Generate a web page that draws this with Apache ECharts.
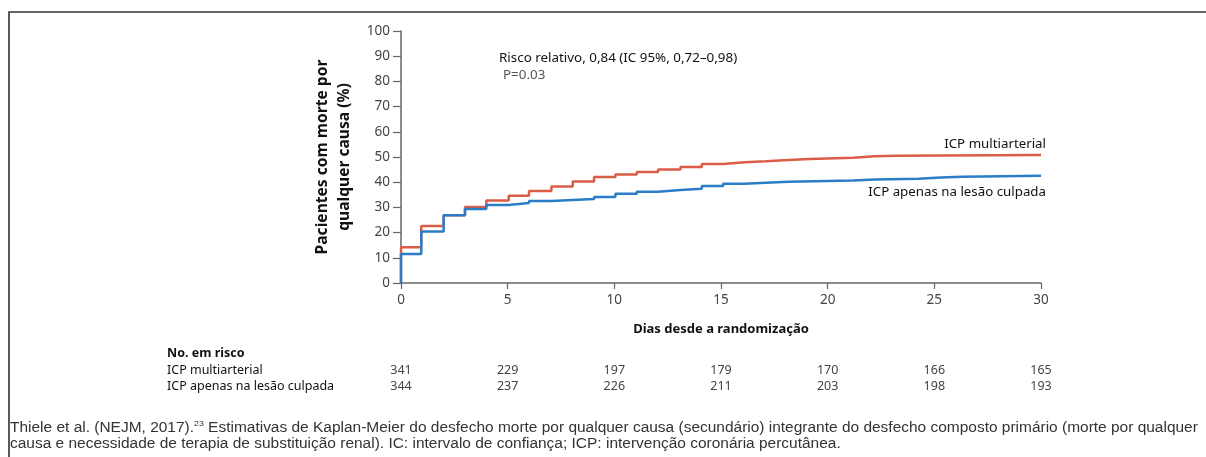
<!DOCTYPE html>
<html>
<head>
<meta charset="utf-8">
<script src="https://cdn.jsdelivr.net/npm/echarts@6/dist/echarts.min.js"></script>
<style>
html,body{margin:0;padding:0;background:#fff;}
#chart{width:1206px;height:457px;}
</style>
</head>
<body>
<div id="chart"></div>
<script>
// ---- data ----
const multiName = 'ICP multiarterial';
const culpName = 'ICP apenas na lesão culpada';
const multiDays = [0, 0, 0.95, 2, 3, 4, 5.05, 6, 7.05, 8.05, 9.05, 10.05, 11.05, 12.05, 13.1, 14.1, 15.1, 16.1, 17.1, 18.15, 19.15, 21.2, 22.2, 23.2, 30];
const multiVals = [0, 14.2, 22.6, 26.9, 30.2, 32.7, 34.6, 36.5, 38.3, 40.3, 42.1, 43.1, 44.0, 45.0, 46.0, 47.2, 47.9, 48.3, 48.8, 49.2, 49.7, 50.3, 50.5, 50.8, 50.8];
const culpDays = [0, 0, 0.95, 2, 3, 4, 5.05, 6, 7.05, 8.05, 9.05, 10.05, 11.05, 12.05, 13.1, 14.1, 15.1, 16.1, 17.1, 18.15, 21.2, 22.2, 24.25, 25.3, 26.3, 30];
const culpVals = [0, 11.5, 20.4, 26.9, 29.4, 31.0, 31.7, 32.5, 32.9, 33.3, 34.1, 35.4, 36.2, 36.9, 37.4, 38.5, 39.4, 39.8, 40.2, 40.7, 41.1, 41.4, 41.9, 42.2, 42.6, 42.6];
const riskDays = [0, 5, 10, 15, 20, 25, 30];
const riskMulti = [341, 229, 197, 179, 170, 166, 165];
const riskCulp = [344, 237, 226, 211, 203, 198, 193];
const yTicks = [0, 10, 20, 30, 40, 50, 60, 70, 80, 90, 100];

const redColor = '#dc5d47';
const blueColor = '#2c7dc8';
const font = 'Noto Sans';

const chart = echarts.init(document.getElementById('chart'), null, {renderer: 'canvas'});

const option = {
  animation: false,
  backgroundColor: '#fff',
  grid: {left: 401, right: 165, top: 31, bottom: 174, containLabel: false},
  xAxis: {
    type: 'value', min: 0, max: 30, interval: 5,
    name: 'Dias desde a randomização', nameLocation: 'middle', nameGap: 40,
    nameTextStyle: {fontFamily: font, fontWeight: 'bold', fontSize: 13, color: '#111'},
    axisLine: {lineStyle: {color: '#666', width: 1.5}},
    axisTick: {length: 6, lineStyle: {color: '#666', width: 1.2}},
    axisLabel: {fontFamily: font, fontSize: 13.5, color: '#444', margin: 10},
    splitLine: {show: false}
  },
  yAxis: {
    type: 'value', min: 0, max: 100, interval: 10,
    axisLine: {show: true, lineStyle: {color: '#666', width: 1.5}},
    axisTick: {show: true, length: 8, lineStyle: {color: '#666', width: 1.2}},
    axisLabel: {fontFamily: font, fontSize: 13.5, color: '#444', margin: 11,
      formatter: v => yTicks.includes(v) ? String(v) : ''},
    splitLine: {show: false}
  },
  series: [
    {
      name: multiName, type: 'line', step: 'end', symbol: 'none',
      data: multiDays.map((d, i) => [d, multiVals[i]]),
      lineStyle: {color: redColor, width: 2.5}, z: 2
    },
    {
      name: culpName, type: 'line', step: 'end', symbol: 'none',
      data: culpDays.map((d, i) => [d, culpVals[i]]),
      lineStyle: {color: blueColor, width: 2.5}, z: 3
    }
  ]
};
chart.setOption(option);

// positions from the library's scales
const px = d => chart.convertToPixel({xAxisIndex: 0}, d);
const x30 = px(30);

const graphics = [
  {type: 'rect', shape: {x: 9, y: 12, width: 1400, height: 600},
   style: {fill: null, stroke: '#333', lineWidth: 1.6}, silent: true},
  {type: 'text', style: {text: 'Pacientes com morte por\nqualquer causa (%)', x: 0, y: 0,
    fontFamily: font, fontWeight: 'bold', fontSize: 15.6, fill: '#111', align: 'center',
    verticalAlign: 'middle', lineHeight: 22},
   x: 334, y: 157, rotation: Math.PI / 2},
  {type: 'text', style: {text: 'Risco relativo, 0,84 (IC 95%, 0,72–0,98)', x: 499, y: 58,
    fontFamily: font, fontSize: 13.4, fill: '#111', verticalAlign: 'middle'}},
  {type: 'text', style: {text: 'P=0.03', x: 503, y: 75,
    fontFamily: font, fontSize: 13.4, fill: '#555', verticalAlign: 'middle'}},
  {type: 'text', style: {text: multiName, x: x30 + 5, y: 144,
    fontFamily: font, fontSize: 13.3, fill: '#111', align: 'right', verticalAlign: 'middle'}},
  {type: 'text', style: {text: culpName, x: x30 + 5, y: 192,
    fontFamily: font, fontSize: 13.3, fill: '#111', align: 'right', verticalAlign: 'middle'}},
  {type: 'text', style: {text: 'No. em risco', x: 167, y: 353,
    fontFamily: font, fontWeight: 'bold', fontSize: 12.5, fill: '#111', verticalAlign: 'middle'}},
  {type: 'text', style: {text: multiName, x: 167, y: 370,
    fontFamily: font, fontSize: 12.5, fill: '#111', verticalAlign: 'middle'}},
  {type: 'text', style: {text: culpName, x: 167, y: 386,
    fontFamily: font, fontSize: 12.5, fill: '#111', verticalAlign: 'middle'}},
  {type: 'text', x: 10, y: 420, scaleX: 1.105, style: {
    text: '{a|Thiele et al. (NEJM, 2017).}{s|23}{a| Estimativas de Kaplan-Meier do desfecho morte por qualquer causa (secundário) integrante do desfecho composto primário (morte por qualquer}\n{a|causa e necessidade de terapia de substituição renal). IC: intervalo de confiança; ICP: intervenção coronária percutânea.}',
    x: 0, y: 0,
    rich: {
      a: {fontFamily: 'Liberation Sans', fontSize: 14, fill: '#333', lineHeight: 16},
      s: {fontFamily: 'Liberation Sans', fontSize: 8, fill: '#333', verticalAlign: 'top', lineHeight: 16, padding: [0, 0, 6, 0]}
    }
  }}
];
riskDays.forEach((d, i) => {
  let x = px(d);
  graphics.push({type: 'text', style: {text: String(riskMulti[i]), x: x, y: 370,
    fontFamily: font, fontSize: 12.5, fill: '#444', align: 'center', verticalAlign: 'middle'}});
  graphics.push({type: 'text', style: {text: String(riskCulp[i]), x: x, y: 386,
    fontFamily: font, fontSize: 12.5, fill: '#444', align: 'center', verticalAlign: 'middle'}});
});
chart.setOption({graphic: graphics});
</script>
</body>
</html>
